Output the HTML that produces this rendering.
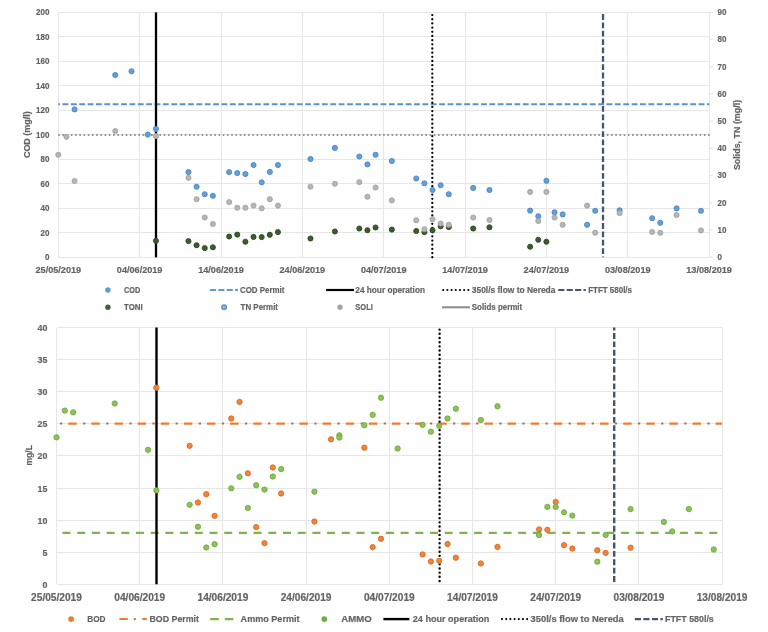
<!DOCTYPE html>
<html><head><meta charset="utf-8"><title>COD, solids, BOD and ammonia monitoring charts</title>
<style>
html,body{margin:0;padding:0;background:#fff;}
body{width:768px;height:632px;overflow:hidden;}
svg{display:block;font-family:"Liberation Sans",Arial,sans-serif;}
text{stroke:#666;stroke-width:0.2px;}
</style></head><body>
<svg width="768" height="632" viewBox="0 0 768 632">
<defs><filter id="soft" x="0" y="0" width="100%" height="100%"><feGaussianBlur stdDeviation="0.35"/></filter></defs>
<rect width="768" height="632" fill="#fff"/>
<g filter="url(#soft)">
<g shape-rendering="crispEdges">
<line x1="58.3" y1="257.3" x2="709.1" y2="257.3" stroke="#e6e6e6" stroke-width="1" stroke-linecap="butt"/>
<line x1="58.3" y1="232.81" x2="709.1" y2="232.81" stroke="#e6e6e6" stroke-width="1" stroke-linecap="butt"/>
<line x1="58.3" y1="208.32" x2="709.1" y2="208.32" stroke="#e6e6e6" stroke-width="1" stroke-linecap="butt"/>
<line x1="58.3" y1="183.83" x2="709.1" y2="183.83" stroke="#e6e6e6" stroke-width="1" stroke-linecap="butt"/>
<line x1="58.3" y1="159.34" x2="709.1" y2="159.34" stroke="#e6e6e6" stroke-width="1" stroke-linecap="butt"/>
<line x1="58.3" y1="134.85" x2="709.1" y2="134.85" stroke="#e6e6e6" stroke-width="1" stroke-linecap="butt"/>
<line x1="58.3" y1="110.36" x2="709.1" y2="110.36" stroke="#e6e6e6" stroke-width="1" stroke-linecap="butt"/>
<line x1="58.3" y1="85.87" x2="709.1" y2="85.87" stroke="#e6e6e6" stroke-width="1" stroke-linecap="butt"/>
<line x1="58.3" y1="61.38" x2="709.1" y2="61.38" stroke="#e6e6e6" stroke-width="1" stroke-linecap="butt"/>
<line x1="58.3" y1="36.89" x2="709.1" y2="36.89" stroke="#e6e6e6" stroke-width="1" stroke-linecap="butt"/>
<line x1="58.3" y1="12.4" x2="709.1" y2="12.4" stroke="#e6e6e6" stroke-width="1" stroke-linecap="butt"/>
<line x1="58.3" y1="12.4" x2="58.3" y2="257.3" stroke="#e6e6e6" stroke-width="1" stroke-linecap="butt"/>
<line x1="139.65" y1="12.4" x2="139.65" y2="257.3" stroke="#e6e6e6" stroke-width="1" stroke-linecap="butt"/>
<line x1="221" y1="12.4" x2="221" y2="257.3" stroke="#e6e6e6" stroke-width="1" stroke-linecap="butt"/>
<line x1="302.35" y1="12.4" x2="302.35" y2="257.3" stroke="#e6e6e6" stroke-width="1" stroke-linecap="butt"/>
<line x1="383.7" y1="12.4" x2="383.7" y2="257.3" stroke="#e6e6e6" stroke-width="1" stroke-linecap="butt"/>
<line x1="465.05" y1="12.4" x2="465.05" y2="257.3" stroke="#e6e6e6" stroke-width="1" stroke-linecap="butt"/>
<line x1="546.4" y1="12.4" x2="546.4" y2="257.3" stroke="#e6e6e6" stroke-width="1" stroke-linecap="butt"/>
<line x1="627.75" y1="12.4" x2="627.75" y2="257.3" stroke="#e6e6e6" stroke-width="1" stroke-linecap="butt"/>
<line x1="709.1" y1="12.4" x2="709.1" y2="257.3" stroke="#e6e6e6" stroke-width="1" stroke-linecap="butt"/>
<line x1="709.1" y1="12.4" x2="709.1" y2="257.3" stroke="#e6e6e6" stroke-width="1" stroke-linecap="butt"/>
</g>
<line x1="709.1" y1="257.3" x2="713.1" y2="257.3" stroke="#e6e6e6" stroke-width="1" stroke-linecap="butt"/>
<line x1="709.1" y1="230.09" x2="713.1" y2="230.09" stroke="#e6e6e6" stroke-width="1" stroke-linecap="butt"/>
<line x1="709.1" y1="202.88" x2="713.1" y2="202.88" stroke="#e6e6e6" stroke-width="1" stroke-linecap="butt"/>
<line x1="709.1" y1="175.67" x2="713.1" y2="175.67" stroke="#e6e6e6" stroke-width="1" stroke-linecap="butt"/>
<line x1="709.1" y1="148.46" x2="713.1" y2="148.46" stroke="#e6e6e6" stroke-width="1" stroke-linecap="butt"/>
<line x1="709.1" y1="121.25" x2="713.1" y2="121.25" stroke="#e6e6e6" stroke-width="1" stroke-linecap="butt"/>
<line x1="709.1" y1="94.03" x2="713.1" y2="94.03" stroke="#e6e6e6" stroke-width="1" stroke-linecap="butt"/>
<line x1="709.1" y1="66.82" x2="713.1" y2="66.82" stroke="#e6e6e6" stroke-width="1" stroke-linecap="butt"/>
<line x1="709.1" y1="39.61" x2="713.1" y2="39.61" stroke="#e6e6e6" stroke-width="1" stroke-linecap="butt"/>
<line x1="709.1" y1="12.4" x2="713.1" y2="12.4" stroke="#e6e6e6" stroke-width="1" stroke-linecap="butt"/>
<line x1="58.3" y1="104.3" x2="709.1" y2="104.3" stroke="#5692cd" stroke-width="1.9" stroke-linecap="butt" stroke-dasharray="5.8 2.57" stroke-dashoffset="4.17"/>
<line x1="59" y1="134.9" x2="709.1" y2="134.9" stroke="#8c8c8c" stroke-width="2.0" stroke-linecap="round" stroke-dasharray="0.01 4.21"/>
<line x1="156" y1="12.4" x2="156" y2="257.3" stroke="#000" stroke-width="2.3" stroke-linecap="butt"/>
<line x1="432.3" y1="15.08" x2="432.3" y2="257.3" stroke="#000" stroke-width="2.3" stroke-linecap="round" stroke-dasharray="0.01 4.165"/>
<line x1="603" y1="12.4" x2="603" y2="257.3" stroke="#44546a" stroke-width="2.3" stroke-linecap="butt" stroke-dasharray="5.8 2.56" stroke-dashoffset="6.66"/>
<circle cx="74.57" cy="109.4" r="2.55" fill="#62a0d8" stroke="#4a84c4" stroke-width="0.9"/>
<circle cx="115.25" cy="75" r="2.55" fill="#62a0d8" stroke="#4a84c4" stroke-width="0.9"/>
<circle cx="131.51" cy="71.25" r="2.55" fill="#62a0d8" stroke="#4a84c4" stroke-width="0.9"/>
<circle cx="147.78" cy="134.6" r="2.55" fill="#62a0d8" stroke="#4a84c4" stroke-width="0.9"/>
<circle cx="155.92" cy="128.9" r="2.55" fill="#62a0d8" stroke="#4a84c4" stroke-width="0.9"/>
<circle cx="188.46" cy="172.1" r="2.55" fill="#62a0d8" stroke="#4a84c4" stroke-width="0.9"/>
<circle cx="196.59" cy="186.7" r="2.55" fill="#62a0d8" stroke="#4a84c4" stroke-width="0.9"/>
<circle cx="204.73" cy="194.2" r="2.55" fill="#62a0d8" stroke="#4a84c4" stroke-width="0.9"/>
<circle cx="212.87" cy="195.8" r="2.55" fill="#62a0d8" stroke="#4a84c4" stroke-width="0.9"/>
<circle cx="229.13" cy="172.1" r="2.55" fill="#62a0d8" stroke="#4a84c4" stroke-width="0.9"/>
<circle cx="237.27" cy="173.1" r="2.55" fill="#62a0d8" stroke="#4a84c4" stroke-width="0.9"/>
<circle cx="245.4" cy="174" r="2.55" fill="#62a0d8" stroke="#4a84c4" stroke-width="0.9"/>
<circle cx="253.54" cy="165" r="2.55" fill="#62a0d8" stroke="#4a84c4" stroke-width="0.9"/>
<circle cx="261.68" cy="182.3" r="2.55" fill="#62a0d8" stroke="#4a84c4" stroke-width="0.9"/>
<circle cx="269.81" cy="171.9" r="2.55" fill="#62a0d8" stroke="#4a84c4" stroke-width="0.9"/>
<circle cx="277.94" cy="165" r="2.55" fill="#62a0d8" stroke="#4a84c4" stroke-width="0.9"/>
<circle cx="310.49" cy="159" r="2.55" fill="#62a0d8" stroke="#4a84c4" stroke-width="0.9"/>
<circle cx="334.89" cy="147.9" r="2.55" fill="#62a0d8" stroke="#4a84c4" stroke-width="0.9"/>
<circle cx="359.3" cy="156.5" r="2.55" fill="#62a0d8" stroke="#4a84c4" stroke-width="0.9"/>
<circle cx="367.43" cy="164.4" r="2.55" fill="#62a0d8" stroke="#4a84c4" stroke-width="0.9"/>
<circle cx="375.56" cy="154.8" r="2.55" fill="#62a0d8" stroke="#4a84c4" stroke-width="0.9"/>
<circle cx="391.83" cy="161" r="2.55" fill="#62a0d8" stroke="#4a84c4" stroke-width="0.9"/>
<circle cx="416.24" cy="178.5" r="2.55" fill="#62a0d8" stroke="#4a84c4" stroke-width="0.9"/>
<circle cx="424.38" cy="183.3" r="2.55" fill="#62a0d8" stroke="#4a84c4" stroke-width="0.9"/>
<circle cx="432.51" cy="190" r="2.55" fill="#62a0d8" stroke="#4a84c4" stroke-width="0.9"/>
<circle cx="440.64" cy="185.2" r="2.55" fill="#62a0d8" stroke="#4a84c4" stroke-width="0.9"/>
<circle cx="448.78" cy="194.2" r="2.55" fill="#62a0d8" stroke="#4a84c4" stroke-width="0.9"/>
<circle cx="473.19" cy="187.9" r="2.55" fill="#62a0d8" stroke="#4a84c4" stroke-width="0.9"/>
<circle cx="489.45" cy="190" r="2.55" fill="#62a0d8" stroke="#4a84c4" stroke-width="0.9"/>
<circle cx="530.13" cy="210.6" r="2.55" fill="#62a0d8" stroke="#4a84c4" stroke-width="0.9"/>
<circle cx="538.26" cy="216.25" r="2.55" fill="#62a0d8" stroke="#4a84c4" stroke-width="0.9"/>
<circle cx="546.4" cy="180.8" r="2.55" fill="#62a0d8" stroke="#4a84c4" stroke-width="0.9"/>
<circle cx="554.53" cy="212.3" r="2.55" fill="#62a0d8" stroke="#4a84c4" stroke-width="0.9"/>
<circle cx="562.67" cy="214.4" r="2.55" fill="#62a0d8" stroke="#4a84c4" stroke-width="0.9"/>
<circle cx="587.07" cy="224.8" r="2.55" fill="#62a0d8" stroke="#4a84c4" stroke-width="0.9"/>
<circle cx="595.21" cy="210.8" r="2.55" fill="#62a0d8" stroke="#4a84c4" stroke-width="0.9"/>
<circle cx="619.61" cy="210.3" r="2.55" fill="#62a0d8" stroke="#4a84c4" stroke-width="0.9"/>
<circle cx="652.15" cy="218.2" r="2.55" fill="#62a0d8" stroke="#4a84c4" stroke-width="0.9"/>
<circle cx="660.29" cy="222.8" r="2.55" fill="#62a0d8" stroke="#4a84c4" stroke-width="0.9"/>
<circle cx="676.56" cy="208.4" r="2.55" fill="#62a0d8" stroke="#4a84c4" stroke-width="0.9"/>
<circle cx="700.96" cy="210.8" r="2.55" fill="#62a0d8" stroke="#4a84c4" stroke-width="0.9"/>
<circle cx="155.92" cy="240.8" r="2.55" fill="#3c5c2e" stroke="#2c4621" stroke-width="0.9"/>
<circle cx="188.46" cy="241.1" r="2.55" fill="#3c5c2e" stroke="#2c4621" stroke-width="0.9"/>
<circle cx="196.59" cy="245.2" r="2.55" fill="#3c5c2e" stroke="#2c4621" stroke-width="0.9"/>
<circle cx="204.73" cy="248.1" r="2.55" fill="#3c5c2e" stroke="#2c4621" stroke-width="0.9"/>
<circle cx="212.87" cy="247.3" r="2.55" fill="#3c5c2e" stroke="#2c4621" stroke-width="0.9"/>
<circle cx="229.13" cy="236.5" r="2.55" fill="#3c5c2e" stroke="#2c4621" stroke-width="0.9"/>
<circle cx="237.27" cy="234.6" r="2.55" fill="#3c5c2e" stroke="#2c4621" stroke-width="0.9"/>
<circle cx="245.4" cy="241.7" r="2.55" fill="#3c5c2e" stroke="#2c4621" stroke-width="0.9"/>
<circle cx="253.54" cy="236.9" r="2.55" fill="#3c5c2e" stroke="#2c4621" stroke-width="0.9"/>
<circle cx="261.68" cy="237.1" r="2.55" fill="#3c5c2e" stroke="#2c4621" stroke-width="0.9"/>
<circle cx="269.81" cy="234.8" r="2.55" fill="#3c5c2e" stroke="#2c4621" stroke-width="0.9"/>
<circle cx="277.94" cy="232.1" r="2.55" fill="#3c5c2e" stroke="#2c4621" stroke-width="0.9"/>
<circle cx="310.49" cy="238.5" r="2.55" fill="#3c5c2e" stroke="#2c4621" stroke-width="0.9"/>
<circle cx="334.89" cy="231.5" r="2.55" fill="#3c5c2e" stroke="#2c4621" stroke-width="0.9"/>
<circle cx="359.3" cy="228.5" r="2.55" fill="#3c5c2e" stroke="#2c4621" stroke-width="0.9"/>
<circle cx="367.43" cy="230.2" r="2.55" fill="#3c5c2e" stroke="#2c4621" stroke-width="0.9"/>
<circle cx="375.56" cy="227.5" r="2.55" fill="#3c5c2e" stroke="#2c4621" stroke-width="0.9"/>
<circle cx="391.83" cy="229.6" r="2.55" fill="#3c5c2e" stroke="#2c4621" stroke-width="0.9"/>
<circle cx="416.24" cy="231" r="2.55" fill="#3c5c2e" stroke="#2c4621" stroke-width="0.9"/>
<circle cx="424.38" cy="232.1" r="2.55" fill="#3c5c2e" stroke="#2c4621" stroke-width="0.9"/>
<circle cx="432.51" cy="230.2" r="2.55" fill="#3c5c2e" stroke="#2c4621" stroke-width="0.9"/>
<circle cx="440.64" cy="226.25" r="2.55" fill="#3c5c2e" stroke="#2c4621" stroke-width="0.9"/>
<circle cx="448.78" cy="227.1" r="2.55" fill="#3c5c2e" stroke="#2c4621" stroke-width="0.9"/>
<circle cx="473.19" cy="228.5" r="2.55" fill="#3c5c2e" stroke="#2c4621" stroke-width="0.9"/>
<circle cx="489.45" cy="227.3" r="2.55" fill="#3c5c2e" stroke="#2c4621" stroke-width="0.9"/>
<circle cx="530.13" cy="246.7" r="2.55" fill="#3c5c2e" stroke="#2c4621" stroke-width="0.9"/>
<circle cx="538.26" cy="239.8" r="2.55" fill="#3c5c2e" stroke="#2c4621" stroke-width="0.9"/>
<circle cx="546.4" cy="241.7" r="2.55" fill="#3c5c2e" stroke="#2c4621" stroke-width="0.9"/>
<circle cx="58.3" cy="154.8" r="2.55" fill="#b6b6b6" stroke="#a2a2a2" stroke-width="0.9"/>
<circle cx="66.44" cy="136.8" r="2.55" fill="#b6b6b6" stroke="#a2a2a2" stroke-width="0.9"/>
<circle cx="74.57" cy="181" r="2.55" fill="#b6b6b6" stroke="#a2a2a2" stroke-width="0.9"/>
<circle cx="115.25" cy="131.1" r="2.55" fill="#b6b6b6" stroke="#a2a2a2" stroke-width="0.9"/>
<circle cx="155.92" cy="136" r="2.55" fill="#b6b6b6" stroke="#a2a2a2" stroke-width="0.9"/>
<circle cx="188.46" cy="177.8" r="2.55" fill="#b6b6b6" stroke="#a2a2a2" stroke-width="0.9"/>
<circle cx="196.59" cy="199.2" r="2.55" fill="#b6b6b6" stroke="#a2a2a2" stroke-width="0.9"/>
<circle cx="204.73" cy="217.5" r="2.55" fill="#b6b6b6" stroke="#a2a2a2" stroke-width="0.9"/>
<circle cx="212.87" cy="224" r="2.55" fill="#b6b6b6" stroke="#a2a2a2" stroke-width="0.9"/>
<circle cx="229.13" cy="202.1" r="2.55" fill="#b6b6b6" stroke="#a2a2a2" stroke-width="0.9"/>
<circle cx="237.27" cy="207.7" r="2.55" fill="#b6b6b6" stroke="#a2a2a2" stroke-width="0.9"/>
<circle cx="245.4" cy="207.7" r="2.55" fill="#b6b6b6" stroke="#a2a2a2" stroke-width="0.9"/>
<circle cx="253.54" cy="205.6" r="2.55" fill="#b6b6b6" stroke="#a2a2a2" stroke-width="0.9"/>
<circle cx="261.68" cy="208.3" r="2.55" fill="#b6b6b6" stroke="#a2a2a2" stroke-width="0.9"/>
<circle cx="269.81" cy="199.2" r="2.55" fill="#b6b6b6" stroke="#a2a2a2" stroke-width="0.9"/>
<circle cx="277.94" cy="205.6" r="2.55" fill="#b6b6b6" stroke="#a2a2a2" stroke-width="0.9"/>
<circle cx="310.49" cy="186.7" r="2.55" fill="#b6b6b6" stroke="#a2a2a2" stroke-width="0.9"/>
<circle cx="334.89" cy="183.75" r="2.55" fill="#b6b6b6" stroke="#a2a2a2" stroke-width="0.9"/>
<circle cx="359.3" cy="182.1" r="2.55" fill="#b6b6b6" stroke="#a2a2a2" stroke-width="0.9"/>
<circle cx="367.43" cy="196.7" r="2.55" fill="#b6b6b6" stroke="#a2a2a2" stroke-width="0.9"/>
<circle cx="375.56" cy="187.5" r="2.55" fill="#b6b6b6" stroke="#a2a2a2" stroke-width="0.9"/>
<circle cx="391.83" cy="200.4" r="2.55" fill="#b6b6b6" stroke="#a2a2a2" stroke-width="0.9"/>
<circle cx="416.24" cy="220.2" r="2.55" fill="#b6b6b6" stroke="#a2a2a2" stroke-width="0.9"/>
<circle cx="424.38" cy="229.2" r="2.55" fill="#b6b6b6" stroke="#a2a2a2" stroke-width="0.9"/>
<circle cx="432.51" cy="219.2" r="2.55" fill="#b6b6b6" stroke="#a2a2a2" stroke-width="0.9"/>
<circle cx="440.64" cy="223.5" r="2.55" fill="#b6b6b6" stroke="#a2a2a2" stroke-width="0.9"/>
<circle cx="448.78" cy="224.8" r="2.55" fill="#b6b6b6" stroke="#a2a2a2" stroke-width="0.9"/>
<circle cx="473.19" cy="217.5" r="2.55" fill="#b6b6b6" stroke="#a2a2a2" stroke-width="0.9"/>
<circle cx="489.45" cy="220" r="2.55" fill="#b6b6b6" stroke="#a2a2a2" stroke-width="0.9"/>
<circle cx="530.13" cy="191.9" r="2.55" fill="#b6b6b6" stroke="#a2a2a2" stroke-width="0.9"/>
<circle cx="538.26" cy="221" r="2.55" fill="#b6b6b6" stroke="#a2a2a2" stroke-width="0.9"/>
<circle cx="546.4" cy="191.9" r="2.55" fill="#b6b6b6" stroke="#a2a2a2" stroke-width="0.9"/>
<circle cx="554.53" cy="217.5" r="2.55" fill="#b6b6b6" stroke="#a2a2a2" stroke-width="0.9"/>
<circle cx="562.67" cy="224.8" r="2.55" fill="#b6b6b6" stroke="#a2a2a2" stroke-width="0.9"/>
<circle cx="587.07" cy="205.6" r="2.55" fill="#b6b6b6" stroke="#a2a2a2" stroke-width="0.9"/>
<circle cx="595.21" cy="232.7" r="2.55" fill="#b6b6b6" stroke="#a2a2a2" stroke-width="0.9"/>
<circle cx="619.61" cy="213.1" r="2.55" fill="#b6b6b6" stroke="#a2a2a2" stroke-width="0.9"/>
<circle cx="652.15" cy="232" r="2.55" fill="#b6b6b6" stroke="#a2a2a2" stroke-width="0.9"/>
<circle cx="660.29" cy="232.8" r="2.55" fill="#b6b6b6" stroke="#a2a2a2" stroke-width="0.9"/>
<circle cx="676.56" cy="215" r="2.55" fill="#b6b6b6" stroke="#a2a2a2" stroke-width="0.9"/>
<circle cx="700.96" cy="230.4" r="2.55" fill="#b6b6b6" stroke="#a2a2a2" stroke-width="0.9"/>
<text x="49.4" y="260" font-size="8.6" text-anchor="end" font-weight="bold" fill="#646464" textLength="4.45" lengthAdjust="spacingAndGlyphs">0</text>
<text x="49.4" y="235.51" font-size="8.6" text-anchor="end" font-weight="bold" fill="#646464" textLength="8.9" lengthAdjust="spacingAndGlyphs">20</text>
<text x="49.4" y="211.02" font-size="8.6" text-anchor="end" font-weight="bold" fill="#646464" textLength="8.9" lengthAdjust="spacingAndGlyphs">40</text>
<text x="49.4" y="186.53" font-size="8.6" text-anchor="end" font-weight="bold" fill="#646464" textLength="8.9" lengthAdjust="spacingAndGlyphs">60</text>
<text x="49.4" y="162.04" font-size="8.6" text-anchor="end" font-weight="bold" fill="#646464" textLength="8.9" lengthAdjust="spacingAndGlyphs">80</text>
<text x="49.4" y="137.55" font-size="8.6" text-anchor="end" font-weight="bold" fill="#646464" textLength="13.35" lengthAdjust="spacingAndGlyphs">100</text>
<text x="49.4" y="113.06" font-size="8.6" text-anchor="end" font-weight="bold" fill="#646464" textLength="13.35" lengthAdjust="spacingAndGlyphs">120</text>
<text x="49.4" y="88.57" font-size="8.6" text-anchor="end" font-weight="bold" fill="#646464" textLength="13.35" lengthAdjust="spacingAndGlyphs">140</text>
<text x="49.4" y="64.08" font-size="8.6" text-anchor="end" font-weight="bold" fill="#646464" textLength="13.35" lengthAdjust="spacingAndGlyphs">160</text>
<text x="49.4" y="39.59" font-size="8.6" text-anchor="end" font-weight="bold" fill="#646464" textLength="13.35" lengthAdjust="spacingAndGlyphs">180</text>
<text x="49.4" y="15.1" font-size="8.6" text-anchor="end" font-weight="bold" fill="#646464" textLength="13.35" lengthAdjust="spacingAndGlyphs">200</text>
<text x="717.6" y="260.1" font-size="8.6" text-anchor="start" font-weight="bold" fill="#646464" textLength="4.45" lengthAdjust="spacingAndGlyphs">0</text>
<text x="717.6" y="232.89" font-size="8.6" text-anchor="start" font-weight="bold" fill="#646464" textLength="8.9" lengthAdjust="spacingAndGlyphs">10</text>
<text x="717.6" y="205.68" font-size="8.6" text-anchor="start" font-weight="bold" fill="#646464" textLength="8.9" lengthAdjust="spacingAndGlyphs">20</text>
<text x="717.6" y="178.47" font-size="8.6" text-anchor="start" font-weight="bold" fill="#646464" textLength="8.9" lengthAdjust="spacingAndGlyphs">30</text>
<text x="717.6" y="151.26" font-size="8.6" text-anchor="start" font-weight="bold" fill="#646464" textLength="8.9" lengthAdjust="spacingAndGlyphs">40</text>
<text x="717.6" y="124.05" font-size="8.6" text-anchor="start" font-weight="bold" fill="#646464" textLength="8.9" lengthAdjust="spacingAndGlyphs">50</text>
<text x="717.6" y="96.83" font-size="8.6" text-anchor="start" font-weight="bold" fill="#646464" textLength="8.9" lengthAdjust="spacingAndGlyphs">60</text>
<text x="717.6" y="69.62" font-size="8.6" text-anchor="start" font-weight="bold" fill="#646464" textLength="8.9" lengthAdjust="spacingAndGlyphs">70</text>
<text x="717.6" y="42.41" font-size="8.6" text-anchor="start" font-weight="bold" fill="#646464" textLength="8.9" lengthAdjust="spacingAndGlyphs">80</text>
<text x="717.6" y="15.2" font-size="8.6" text-anchor="start" font-weight="bold" fill="#646464" textLength="8.9" lengthAdjust="spacingAndGlyphs">90</text>
<text x="58.3" y="272.9" font-size="8.7" text-anchor="middle" font-weight="bold" fill="#646464" textLength="45.6" lengthAdjust="spacingAndGlyphs">25/05/2019</text>
<text x="139.65" y="272.9" font-size="8.7" text-anchor="middle" font-weight="bold" fill="#646464" textLength="45.6" lengthAdjust="spacingAndGlyphs">04/06/2019</text>
<text x="221" y="272.9" font-size="8.7" text-anchor="middle" font-weight="bold" fill="#646464" textLength="45.6" lengthAdjust="spacingAndGlyphs">14/06/2019</text>
<text x="302.35" y="272.9" font-size="8.7" text-anchor="middle" font-weight="bold" fill="#646464" textLength="45.6" lengthAdjust="spacingAndGlyphs">24/06/2019</text>
<text x="383.7" y="272.9" font-size="8.7" text-anchor="middle" font-weight="bold" fill="#646464" textLength="45.6" lengthAdjust="spacingAndGlyphs">04/07/2019</text>
<text x="465.05" y="272.9" font-size="8.7" text-anchor="middle" font-weight="bold" fill="#646464" textLength="45.6" lengthAdjust="spacingAndGlyphs">14/07/2019</text>
<text x="546.4" y="272.9" font-size="8.7" text-anchor="middle" font-weight="bold" fill="#646464" textLength="45.6" lengthAdjust="spacingAndGlyphs">24/07/2019</text>
<text x="627.75" y="272.9" font-size="8.7" text-anchor="middle" font-weight="bold" fill="#646464" textLength="45.6" lengthAdjust="spacingAndGlyphs">03/08/2019</text>
<text x="709.1" y="272.9" font-size="8.7" text-anchor="middle" font-weight="bold" fill="#646464" textLength="45.6" lengthAdjust="spacingAndGlyphs">13/08/2019</text>
<text transform="translate(30.4,134.7) rotate(-90)" font-size="8.7" text-anchor="middle" font-weight="bold" fill="#646464" textLength="46.7" lengthAdjust="spacingAndGlyphs">COD (mg/l)</text>
<text transform="translate(740.4,135) rotate(-90)" font-size="8.7" text-anchor="middle" font-weight="bold" fill="#646464" textLength="70.2" lengthAdjust="spacingAndGlyphs">Solids, TN (mg/l)</text>
<circle cx="107.9" cy="290" r="2.7" fill="#5b9bd5"/>
<text x="124" y="293.1" font-size="8.6" text-anchor="start" font-weight="bold" fill="#646464" textLength="16.4" lengthAdjust="spacingAndGlyphs">COD</text>
<line x1="209.9" y1="290" x2="237.9" y2="290" stroke="#5b9bd5" stroke-width="2.0" stroke-linecap="butt" stroke-dasharray="6.1 2.3"/>
<text x="240" y="293.1" font-size="8.6" text-anchor="start" font-weight="bold" fill="#646464" textLength="44.4" lengthAdjust="spacingAndGlyphs">COD Permit</text>
<line x1="326.1" y1="290" x2="354" y2="290" stroke="#000" stroke-width="2.2" stroke-linecap="butt"/>
<text x="355.3" y="293.1" font-size="8.6" text-anchor="start" font-weight="bold" fill="#646464" textLength="69.7" lengthAdjust="spacingAndGlyphs">24 hour operation</text>
<line x1="443.2" y1="290" x2="468.4" y2="290" stroke="#000" stroke-width="2.1" stroke-linecap="round" stroke-dasharray="0.01 4.18"/>
<text x="471.8" y="293.1" font-size="8.6" text-anchor="start" font-weight="bold" fill="#646464" textLength="83.6" lengthAdjust="spacingAndGlyphs">350l/s flow to Nereda</text>
<line x1="558.3" y1="290" x2="585.8" y2="290" stroke="#44546a" stroke-width="2.1" stroke-linecap="butt" stroke-dasharray="6.1 2.3"/>
<text x="588.2" y="293.1" font-size="8.6" text-anchor="start" font-weight="bold" fill="#646464" textLength="43.8" lengthAdjust="spacingAndGlyphs">FTFT 580l/s</text>
<circle cx="107.9" cy="307.3" r="2.7" fill="#3f6130"/>
<text x="124" y="310.4" font-size="8.6" text-anchor="start" font-weight="bold" fill="#646464" textLength="18.7" lengthAdjust="spacingAndGlyphs">TONI</text>
<circle cx="224.1" cy="307.2" r="2.4" fill="#8db4e2" stroke="#5b8fcf" stroke-width="1.2"/>
<text x="240.6" y="310.4" font-size="8.6" text-anchor="start" font-weight="bold" fill="#646464" textLength="37.4" lengthAdjust="spacingAndGlyphs">TN Permit</text>
<circle cx="340" cy="307.3" r="2.7" fill="#a5a5a5"/>
<text x="355.3" y="310.4" font-size="8.6" text-anchor="start" font-weight="bold" fill="#646464" textLength="17.5" lengthAdjust="spacingAndGlyphs">SOLI</text>
<line x1="442" y1="307.3" x2="470" y2="307.3" stroke="#8c8c8c" stroke-width="2" stroke-linecap="butt"/>
<text x="471.8" y="310.4" font-size="8.6" text-anchor="start" font-weight="bold" fill="#646464" textLength="50.4" lengthAdjust="spacingAndGlyphs">Solids permit</text>
<g shape-rendering="crispEdges">
<line x1="56.5" y1="584.3" x2="722.1" y2="584.3" stroke="#e6e6e6" stroke-width="1" stroke-linecap="butt"/>
<line x1="56.5" y1="552.2" x2="722.1" y2="552.2" stroke="#e6e6e6" stroke-width="1" stroke-linecap="butt"/>
<line x1="56.5" y1="520.1" x2="722.1" y2="520.1" stroke="#e6e6e6" stroke-width="1" stroke-linecap="butt"/>
<line x1="56.5" y1="488" x2="722.1" y2="488" stroke="#e6e6e6" stroke-width="1" stroke-linecap="butt"/>
<line x1="56.5" y1="455.9" x2="722.1" y2="455.9" stroke="#e6e6e6" stroke-width="1" stroke-linecap="butt"/>
<line x1="56.5" y1="423.8" x2="722.1" y2="423.8" stroke="#e6e6e6" stroke-width="1" stroke-linecap="butt"/>
<line x1="56.5" y1="391.7" x2="722.1" y2="391.7" stroke="#e6e6e6" stroke-width="1" stroke-linecap="butt"/>
<line x1="56.5" y1="359.6" x2="722.1" y2="359.6" stroke="#e6e6e6" stroke-width="1" stroke-linecap="butt"/>
<line x1="56.5" y1="327.5" x2="722.1" y2="327.5" stroke="#e6e6e6" stroke-width="1" stroke-linecap="butt"/>
<line x1="56.5" y1="327.5" x2="56.5" y2="584.3" stroke="#e6e6e6" stroke-width="1" stroke-linecap="butt"/>
<line x1="139.7" y1="327.5" x2="139.7" y2="584.3" stroke="#e6e6e6" stroke-width="1" stroke-linecap="butt"/>
<line x1="222.9" y1="327.5" x2="222.9" y2="584.3" stroke="#e6e6e6" stroke-width="1" stroke-linecap="butt"/>
<line x1="306.1" y1="327.5" x2="306.1" y2="584.3" stroke="#e6e6e6" stroke-width="1" stroke-linecap="butt"/>
<line x1="389.3" y1="327.5" x2="389.3" y2="584.3" stroke="#e6e6e6" stroke-width="1" stroke-linecap="butt"/>
<line x1="472.5" y1="327.5" x2="472.5" y2="584.3" stroke="#e6e6e6" stroke-width="1" stroke-linecap="butt"/>
<line x1="555.7" y1="327.5" x2="555.7" y2="584.3" stroke="#e6e6e6" stroke-width="1" stroke-linecap="butt"/>
<line x1="638.9" y1="327.5" x2="638.9" y2="584.3" stroke="#e6e6e6" stroke-width="1" stroke-linecap="butt"/>
<line x1="722.1" y1="327.5" x2="722.1" y2="584.3" stroke="#e6e6e6" stroke-width="1" stroke-linecap="butt"/>
<line x1="722.1" y1="327.5" x2="722.1" y2="584.3" stroke="#e6e6e6" stroke-width="1" stroke-linecap="butt"/>
</g>
<line x1="56.5" y1="423.6" x2="722.1" y2="423.6" stroke="#ed7d31" stroke-width="2.2" stroke-linecap="butt" stroke-dasharray="8.4 14.72" stroke-dashoffset="11.32"/>
<line x1="56.5" y1="423.6" x2="722.1" y2="423.6" stroke="#a0765a" stroke-width="2.0" stroke-linecap="butt" stroke-dasharray="2.3 20.82" stroke-dashoffset="19.64"/>
<line x1="56.5" y1="532.8" x2="722.1" y2="532.8" stroke="#80b44c" stroke-width="2.2" stroke-linecap="butt" stroke-dasharray="8 6.7" stroke-dashoffset="8.7"/>
<line x1="156.5" y1="327.5" x2="156.5" y2="584.3" stroke="#000" stroke-width="2.4" stroke-linecap="butt"/>
<line x1="439.6" y1="329.6" x2="439.6" y2="584.3" stroke="#000" stroke-width="2.4" stroke-linecap="round" stroke-dasharray="0.01 4.18"/>
<line x1="614.2" y1="327.5" x2="614.2" y2="584.3" stroke="#44546a" stroke-width="2.4" stroke-linecap="butt" stroke-dasharray="5.8 2.58" stroke-dashoffset="2.78"/>
<circle cx="156.34" cy="387.7" r="2.65" fill="#f0843a" stroke="#dc6a22" stroke-width="0.9"/>
<circle cx="189.62" cy="445.8" r="2.65" fill="#f0843a" stroke="#dc6a22" stroke-width="0.9"/>
<circle cx="197.94" cy="502.5" r="2.65" fill="#f0843a" stroke="#dc6a22" stroke-width="0.9"/>
<circle cx="206.26" cy="494.2" r="2.65" fill="#f0843a" stroke="#dc6a22" stroke-width="0.9"/>
<circle cx="214.58" cy="515.8" r="2.65" fill="#f0843a" stroke="#dc6a22" stroke-width="0.9"/>
<circle cx="231.22" cy="418.5" r="2.65" fill="#f0843a" stroke="#dc6a22" stroke-width="0.9"/>
<circle cx="239.54" cy="401.9" r="2.65" fill="#f0843a" stroke="#dc6a22" stroke-width="0.9"/>
<circle cx="247.86" cy="473.3" r="2.65" fill="#f0843a" stroke="#dc6a22" stroke-width="0.9"/>
<circle cx="256.18" cy="527.1" r="2.65" fill="#f0843a" stroke="#dc6a22" stroke-width="0.9"/>
<circle cx="264.5" cy="543.1" r="2.65" fill="#f0843a" stroke="#dc6a22" stroke-width="0.9"/>
<circle cx="272.82" cy="467.5" r="2.65" fill="#f0843a" stroke="#dc6a22" stroke-width="0.9"/>
<circle cx="281.14" cy="493.5" r="2.65" fill="#f0843a" stroke="#dc6a22" stroke-width="0.9"/>
<circle cx="314.42" cy="521.5" r="2.65" fill="#f0843a" stroke="#dc6a22" stroke-width="0.9"/>
<circle cx="331.06" cy="439.3" r="2.65" fill="#f0843a" stroke="#dc6a22" stroke-width="0.9"/>
<circle cx="364.34" cy="447.7" r="2.65" fill="#f0843a" stroke="#dc6a22" stroke-width="0.9"/>
<circle cx="372.66" cy="547.1" r="2.65" fill="#f0843a" stroke="#dc6a22" stroke-width="0.9"/>
<circle cx="380.98" cy="538.75" r="2.65" fill="#f0843a" stroke="#dc6a22" stroke-width="0.9"/>
<circle cx="422.58" cy="554.4" r="2.65" fill="#f0843a" stroke="#dc6a22" stroke-width="0.9"/>
<circle cx="430.9" cy="561.5" r="2.65" fill="#f0843a" stroke="#dc6a22" stroke-width="0.9"/>
<circle cx="439.22" cy="560.8" r="2.65" fill="#f0843a" stroke="#dc6a22" stroke-width="0.9"/>
<circle cx="447.54" cy="544" r="2.65" fill="#f0843a" stroke="#dc6a22" stroke-width="0.9"/>
<circle cx="455.86" cy="557.7" r="2.65" fill="#f0843a" stroke="#dc6a22" stroke-width="0.9"/>
<circle cx="480.82" cy="563.4" r="2.65" fill="#f0843a" stroke="#dc6a22" stroke-width="0.9"/>
<circle cx="497.46" cy="546.9" r="2.65" fill="#f0843a" stroke="#dc6a22" stroke-width="0.9"/>
<circle cx="539.06" cy="529.4" r="2.65" fill="#f0843a" stroke="#dc6a22" stroke-width="0.9"/>
<circle cx="547.38" cy="529.8" r="2.65" fill="#f0843a" stroke="#dc6a22" stroke-width="0.9"/>
<circle cx="555.7" cy="501.9" r="2.65" fill="#f0843a" stroke="#dc6a22" stroke-width="0.9"/>
<circle cx="564.02" cy="545.2" r="2.65" fill="#f0843a" stroke="#dc6a22" stroke-width="0.9"/>
<circle cx="572.34" cy="548.5" r="2.65" fill="#f0843a" stroke="#dc6a22" stroke-width="0.9"/>
<circle cx="597.3" cy="550.2" r="2.65" fill="#f0843a" stroke="#dc6a22" stroke-width="0.9"/>
<circle cx="605.62" cy="552.9" r="2.65" fill="#f0843a" stroke="#dc6a22" stroke-width="0.9"/>
<circle cx="630.58" cy="547.7" r="2.65" fill="#f0843a" stroke="#dc6a22" stroke-width="0.9"/>
<circle cx="56.5" cy="437.3" r="2.65" fill="#8bc455" stroke="#6fa843" stroke-width="0.9"/>
<circle cx="64.82" cy="410.6" r="2.65" fill="#8bc455" stroke="#6fa843" stroke-width="0.9"/>
<circle cx="73.14" cy="412.3" r="2.65" fill="#8bc455" stroke="#6fa843" stroke-width="0.9"/>
<circle cx="114.74" cy="403.5" r="2.65" fill="#8bc455" stroke="#6fa843" stroke-width="0.9"/>
<circle cx="148.02" cy="449.8" r="2.65" fill="#8bc455" stroke="#6fa843" stroke-width="0.9"/>
<circle cx="156.34" cy="490.4" r="2.65" fill="#8bc455" stroke="#6fa843" stroke-width="0.9"/>
<circle cx="189.62" cy="504.8" r="2.65" fill="#8bc455" stroke="#6fa843" stroke-width="0.9"/>
<circle cx="197.94" cy="526.7" r="2.65" fill="#8bc455" stroke="#6fa843" stroke-width="0.9"/>
<circle cx="206.26" cy="547.5" r="2.65" fill="#8bc455" stroke="#6fa843" stroke-width="0.9"/>
<circle cx="214.58" cy="544.2" r="2.65" fill="#8bc455" stroke="#6fa843" stroke-width="0.9"/>
<circle cx="231.22" cy="488.3" r="2.65" fill="#8bc455" stroke="#6fa843" stroke-width="0.9"/>
<circle cx="239.54" cy="476.8" r="2.65" fill="#8bc455" stroke="#6fa843" stroke-width="0.9"/>
<circle cx="247.86" cy="507.9" r="2.65" fill="#8bc455" stroke="#6fa843" stroke-width="0.9"/>
<circle cx="256.18" cy="485.2" r="2.65" fill="#8bc455" stroke="#6fa843" stroke-width="0.9"/>
<circle cx="264.5" cy="489.6" r="2.65" fill="#8bc455" stroke="#6fa843" stroke-width="0.9"/>
<circle cx="272.82" cy="476.5" r="2.65" fill="#8bc455" stroke="#6fa843" stroke-width="0.9"/>
<circle cx="281.14" cy="469.1" r="2.65" fill="#8bc455" stroke="#6fa843" stroke-width="0.9"/>
<circle cx="314.42" cy="491.7" r="2.65" fill="#8bc455" stroke="#6fa843" stroke-width="0.9"/>
<circle cx="339.38" cy="435.3" r="2.65" fill="#8bc455" stroke="#6fa843" stroke-width="0.9"/>
<circle cx="339.38" cy="437.6" r="2.65" fill="#8bc455" stroke="#6fa843" stroke-width="0.9"/>
<circle cx="364.34" cy="425.2" r="2.65" fill="#8bc455" stroke="#6fa843" stroke-width="0.9"/>
<circle cx="372.66" cy="414.8" r="2.65" fill="#8bc455" stroke="#6fa843" stroke-width="0.9"/>
<circle cx="380.98" cy="397.7" r="2.65" fill="#8bc455" stroke="#6fa843" stroke-width="0.9"/>
<circle cx="397.62" cy="448.5" r="2.65" fill="#8bc455" stroke="#6fa843" stroke-width="0.9"/>
<circle cx="422.58" cy="424.8" r="2.65" fill="#8bc455" stroke="#6fa843" stroke-width="0.9"/>
<circle cx="430.9" cy="431.7" r="2.65" fill="#8bc455" stroke="#6fa843" stroke-width="0.9"/>
<circle cx="439.22" cy="425.8" r="2.65" fill="#8bc455" stroke="#6fa843" stroke-width="0.9"/>
<circle cx="447.54" cy="418.5" r="2.65" fill="#8bc455" stroke="#6fa843" stroke-width="0.9"/>
<circle cx="455.86" cy="408.75" r="2.65" fill="#8bc455" stroke="#6fa843" stroke-width="0.9"/>
<circle cx="480.82" cy="420" r="2.65" fill="#8bc455" stroke="#6fa843" stroke-width="0.9"/>
<circle cx="497.46" cy="406.25" r="2.65" fill="#8bc455" stroke="#6fa843" stroke-width="0.9"/>
<circle cx="539.06" cy="535" r="2.65" fill="#8bc455" stroke="#6fa843" stroke-width="0.9"/>
<circle cx="547.38" cy="506.9" r="2.65" fill="#8bc455" stroke="#6fa843" stroke-width="0.9"/>
<circle cx="555.7" cy="506.9" r="2.65" fill="#8bc455" stroke="#6fa843" stroke-width="0.9"/>
<circle cx="564.02" cy="512.3" r="2.65" fill="#8bc455" stroke="#6fa843" stroke-width="0.9"/>
<circle cx="572.34" cy="515.6" r="2.65" fill="#8bc455" stroke="#6fa843" stroke-width="0.9"/>
<circle cx="597.3" cy="561.7" r="2.65" fill="#8bc455" stroke="#6fa843" stroke-width="0.9"/>
<circle cx="605.62" cy="535" r="2.65" fill="#8bc455" stroke="#6fa843" stroke-width="0.9"/>
<circle cx="630.58" cy="509.1" r="2.65" fill="#8bc455" stroke="#6fa843" stroke-width="0.9"/>
<circle cx="663.86" cy="521.9" r="2.65" fill="#8bc455" stroke="#6fa843" stroke-width="0.9"/>
<circle cx="672.18" cy="531.4" r="2.65" fill="#8bc455" stroke="#6fa843" stroke-width="0.9"/>
<circle cx="688.82" cy="509" r="2.65" fill="#8bc455" stroke="#6fa843" stroke-width="0.9"/>
<circle cx="713.78" cy="549.5" r="2.65" fill="#8bc455" stroke="#6fa843" stroke-width="0.9"/>
<text x="47.4" y="587.8" font-size="9.8" text-anchor="end" font-weight="bold" fill="#646464" textLength="4.95" lengthAdjust="spacingAndGlyphs">0</text>
<text x="47.4" y="555.7" font-size="9.8" text-anchor="end" font-weight="bold" fill="#646464" textLength="4.95" lengthAdjust="spacingAndGlyphs">5</text>
<text x="47.4" y="523.6" font-size="9.8" text-anchor="end" font-weight="bold" fill="#646464" textLength="9.9" lengthAdjust="spacingAndGlyphs">10</text>
<text x="47.4" y="491.5" font-size="9.8" text-anchor="end" font-weight="bold" fill="#646464" textLength="9.9" lengthAdjust="spacingAndGlyphs">15</text>
<text x="47.4" y="459.4" font-size="9.8" text-anchor="end" font-weight="bold" fill="#646464" textLength="9.9" lengthAdjust="spacingAndGlyphs">20</text>
<text x="47.4" y="427.3" font-size="9.8" text-anchor="end" font-weight="bold" fill="#646464" textLength="9.9" lengthAdjust="spacingAndGlyphs">25</text>
<text x="47.4" y="395.2" font-size="9.8" text-anchor="end" font-weight="bold" fill="#646464" textLength="9.9" lengthAdjust="spacingAndGlyphs">30</text>
<text x="47.4" y="363.1" font-size="9.8" text-anchor="end" font-weight="bold" fill="#646464" textLength="9.9" lengthAdjust="spacingAndGlyphs">35</text>
<text x="47.4" y="331" font-size="9.8" text-anchor="end" font-weight="bold" fill="#646464" textLength="9.9" lengthAdjust="spacingAndGlyphs">40</text>
<text x="56.5" y="601.2" font-size="10" text-anchor="middle" font-weight="bold" fill="#646464" textLength="50.8" lengthAdjust="spacingAndGlyphs">25/05/2019</text>
<text x="139.7" y="601.2" font-size="10" text-anchor="middle" font-weight="bold" fill="#646464" textLength="50.8" lengthAdjust="spacingAndGlyphs">04/06/2019</text>
<text x="222.9" y="601.2" font-size="10" text-anchor="middle" font-weight="bold" fill="#646464" textLength="50.8" lengthAdjust="spacingAndGlyphs">14/06/2019</text>
<text x="306.1" y="601.2" font-size="10" text-anchor="middle" font-weight="bold" fill="#646464" textLength="50.8" lengthAdjust="spacingAndGlyphs">24/06/2019</text>
<text x="389.3" y="601.2" font-size="10" text-anchor="middle" font-weight="bold" fill="#646464" textLength="50.8" lengthAdjust="spacingAndGlyphs">04/07/2019</text>
<text x="472.5" y="601.2" font-size="10" text-anchor="middle" font-weight="bold" fill="#646464" textLength="50.8" lengthAdjust="spacingAndGlyphs">14/07/2019</text>
<text x="555.7" y="601.2" font-size="10" text-anchor="middle" font-weight="bold" fill="#646464" textLength="50.8" lengthAdjust="spacingAndGlyphs">24/07/2019</text>
<text x="638.9" y="601.2" font-size="10" text-anchor="middle" font-weight="bold" fill="#646464" textLength="50.8" lengthAdjust="spacingAndGlyphs">03/08/2019</text>
<text x="722.1" y="601.2" font-size="10" text-anchor="middle" font-weight="bold" fill="#646464" textLength="50.8" lengthAdjust="spacingAndGlyphs">13/08/2019</text>
<text transform="translate(31.6,455.3) rotate(-90)" font-size="9.4" text-anchor="middle" font-weight="bold" fill="#646464" textLength="20.6" lengthAdjust="spacingAndGlyphs">mg/L</text>
<circle cx="71.1" cy="619.1" r="2.9" fill="#ed7d31"/>
<text x="87.2" y="622.2" font-size="9.6" text-anchor="start" font-weight="bold" fill="#646464" textLength="18.3" lengthAdjust="spacingAndGlyphs">BOD</text>
<line x1="119.4" y1="619.1" x2="146.9" y2="619.1" stroke="#ed7d31" stroke-width="2.0" stroke-linecap="butt" stroke-dasharray="8.4 14.5"/>
<line x1="133.75" y1="619.1" x2="135.8" y2="619.1" stroke="#a0765a" stroke-width="2.0" stroke-linecap="butt"/>
<text x="149.5" y="622.2" font-size="9.6" text-anchor="start" font-weight="bold" fill="#646464" textLength="49.5" lengthAdjust="spacingAndGlyphs">BOD Permit</text>
<line x1="210.2" y1="619.1" x2="233.4" y2="619.1" stroke="#80b44c" stroke-width="2.1" stroke-linecap="butt" stroke-dasharray="8.6 6"/>
<text x="240.6" y="622.2" font-size="9.6" text-anchor="start" font-weight="bold" fill="#646464" textLength="58.9" lengthAdjust="spacingAndGlyphs">Ammo Permit</text>
<circle cx="324.3" cy="619.1" r="2.9" fill="#70ad47"/>
<text x="341.2" y="622.2" font-size="9.6" text-anchor="start" font-weight="bold" fill="#646464" textLength="30.5" lengthAdjust="spacingAndGlyphs">AMMO</text>
<line x1="383.4" y1="619.1" x2="409.4" y2="619.1" stroke="#000" stroke-width="2.4" stroke-linecap="butt"/>
<text x="412.8" y="622.2" font-size="9.6" text-anchor="start" font-weight="bold" fill="#646464" textLength="76.6" lengthAdjust="spacingAndGlyphs">24 hour operation</text>
<line x1="502" y1="619.1" x2="527.2" y2="619.1" stroke="#000" stroke-width="2.1" stroke-linecap="round" stroke-dasharray="0.01 4.18"/>
<text x="530.6" y="622.2" font-size="9.6" text-anchor="start" font-weight="bold" fill="#646464" textLength="93.2" lengthAdjust="spacingAndGlyphs">350l/s flow to Nereda</text>
<line x1="634.9" y1="619.1" x2="662.8" y2="619.1" stroke="#44546a" stroke-width="2.1" stroke-linecap="butt" stroke-dasharray="6.1 2.4"/>
<text x="665" y="622.2" font-size="9.6" text-anchor="start" font-weight="bold" fill="#646464" textLength="48.8" lengthAdjust="spacingAndGlyphs">FTFT 580l/s</text>
</g>
</svg>
</body></html>
